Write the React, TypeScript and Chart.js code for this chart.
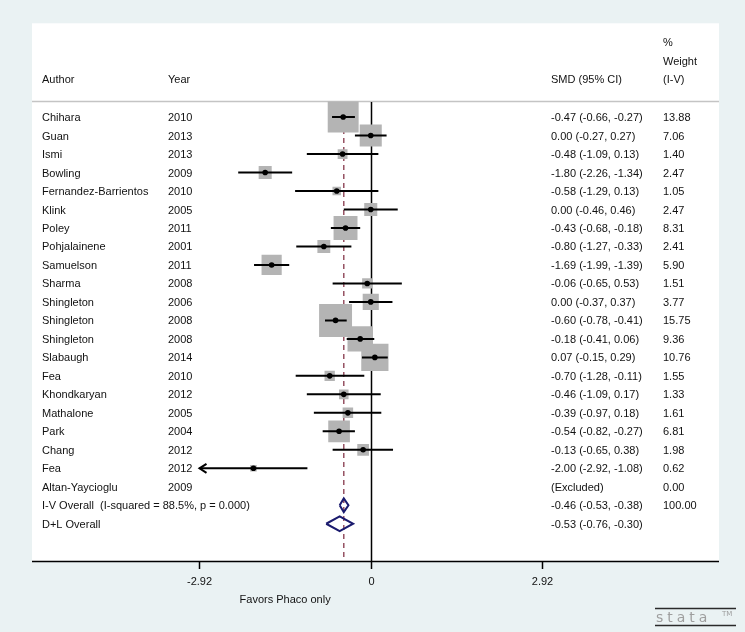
import { useEffect, useRef } from "react";
import { Chart, registerables } from "chart.js";

Chart.register(...registerables);

// ---------- data ----------
const authors = [
  "Chihara", "Guan", "Ismi", "Bowling", "Fernandez-Barrientos", "Klink", "Poley",
  "Pohjalainene", "Samuelson", "Sharma", "Shingleton", "Shingleton", "Shingleton",
  "Slabaugh", "Fea", "Khondkaryan", "Mathalone", "Park", "Chang", "Fea", "Altan-Yaycioglu",
];
const years = [
  "2010", "2013", "2013", "2009", "2010", "2005", "2011", "2001", "2011", "2008", "2006",
  "2008", "2008", "2014", "2010", "2012", "2005", "2004", "2012", "2012", "2009",
];
const smd: (number | null)[] = [
  -0.47, 0.0, -0.48, -1.8, -0.58, 0.0, -0.43, -0.8, -1.69, -0.06, 0.0, -0.6, -0.18, 0.07,
  -0.7, -0.46, -0.39, -0.54, -0.13, -2.0, null,
];
const lower: (number | null)[] = [
  -0.66, -0.27, -1.09, -2.26, -1.29, -0.46, -0.68, -1.27, -1.99, -0.65, -0.37, -0.78, -0.41,
  -0.15, -1.28, -1.09, -0.97, -0.82, -0.65, -2.92, null,
];
const upper: (number | null)[] = [
  -0.27, 0.27, 0.13, -1.34, 0.13, 0.46, -0.18, -0.33, -1.39, 0.53, 0.37, -0.41, 0.06, 0.29,
  -0.11, 0.17, 0.18, -0.27, 0.38, -1.08, null,
];
const weights = [
  13.88, 7.06, 1.4, 2.47, 1.05, 2.47, 8.31, 2.41, 5.9, 1.51, 3.77, 15.75, 9.36, 10.76, 1.55,
  1.33, 1.61, 6.81, 1.98, 0.62, 0.0,
];

const overallLabels = ["I-V Overall  (I-squared = 88.5%, p = 0.000)", "D+L Overall"];
const overallSmd = [-0.46, -0.53];
const overallLower = [-0.53, -0.76];
const overallUpper = [-0.38, -0.3];
const overallWeights = ["100.00", ""];

const xTicks = [-2.92, 0, 2.92];
const axisTitle = "Favors Phaco only";
const headerAuthor = "Author";
const headerYear = "Year";
const headerSmd = "SMD (95% CI)";
const headerWeight = ["%", "Weight", "(I-V)"];
const excludedText = "(Excluded)";

// ---------- styling ----------
const FONT = "11px 'Liberation Sans', Arial, Helvetica, sans-serif";
const BG = "#eaf2f3";
const BOX = "rgb(180,180,180)";
const NAVY = "#1b1b6e";
const MAROON = "rgb(150,82,98)";

const fmt = (v: number) => v.toFixed(2);

export default function App() {
  const ref = useRef<HTMLCanvasElement | null>(null);

  useEffect(() => {
    document.body.style.margin = "0";
    const canvas = ref.current;
    if (!canvas) return;

    const nStudies = authors.length;
    const overallRows = overallSmd.map((_, k) => nStudies + k);

    const boxData: { x: number; y: number }[] = [];
    const boxRadius: number[] = [];
    const pointData: { x: number; y: number }[] = [];
    const ciData: { x: number | null; y: number | null }[] = [];
    smd.forEach((v, i) => {
      if (v === null) return;
      if (weights[i] > 0) {
        boxData.push({ x: v, y: i });
        // square side proportional to sqrt(weight); rect pointStyle side = r*sqrt2
        boxRadius.push((8.3 * Math.sqrt(weights[i])) / Math.SQRT2);
      }
      pointData.push({ x: v, y: i });
      ciData.push({ x: lower[i] as number, y: i });
      ciData.push({ x: upper[i] as number, y: i });
      ciData.push({ x: null, y: null });
    });

    const diamondSets = overallSmd.map((es, k) => {
      const row = overallRows[k];
      const h = k === 0 ? 0.37 : 0.4;
      return {
        type: "scatter" as const,
        showLine: true,
        data: [
          { x: overallLower[k], y: row },
          { x: es, y: row - h },
          { x: overallUpper[k], y: row },
          { x: es, y: row + h },
          { x: overallLower[k], y: row },
        ],
        borderColor: NAVY,
        borderWidth: 2,
        pointRadius: 0,
        fill: false,
        order: 1,
        borderJoinStyle: "miter" as const,
      };
    });

    const pooled = overallSmd[0];

    const forestPlugin = {
      id: "forest",
      beforeDraw(chart: any) {
        const { ctx, chartArea: ca } = chart;
        ctx.save();
        ctx.fillStyle = BG;
        ctx.fillRect(0, 0, chart.width, chart.height);
        ctx.fillStyle = "#ffffff";
        ctx.fillRect(ca.left, ca.top, ca.right - ca.left, ca.bottom - ca.top);
        ctx.strokeStyle = "#c4c4c4";
        ctx.lineWidth = 1.5;
        ctx.beginPath();
        ctx.moveTo(ca.left, 101.5);
        ctx.lineTo(ca.right, 101.5);
        ctx.stroke();
        ctx.restore();
      },
      beforeDatasetsDraw(chart: any) {
        const { ctx, chartArea: ca } = chart;
        const xs = chart.scales.x;
        ctx.save();
        const x0 = Math.round(xs.getPixelForValue(0)) + 0.5;
        ctx.strokeStyle = "#000";
        ctx.lineWidth = 1.5;
        ctx.beginPath();
        ctx.moveTo(x0, 102);
        ctx.lineTo(x0, ca.bottom);
        ctx.stroke();
        const xp = xs.getPixelForValue(pooled);
        ctx.strokeStyle = MAROON;
        ctx.lineWidth = 1.5;
        ctx.setLineDash([5, 4]);
        ctx.beginPath();
        ctx.moveTo(xp, 102);
        ctx.lineTo(xp, ca.bottom);
        ctx.stroke();
        ctx.restore();
      },
      afterDatasetsDraw(chart: any) {
        const { ctx, chartArea: ca } = chart;
        const xs = chart.scales.x;
        const ys = chart.scales.y;
        ctx.save();

        ctx.strokeStyle = "#000";
        ctx.lineWidth = 2;
        smd.forEach((v, i) => {
          const lo = lower[i];
          if (v === null || lo === null) return;
          if (lo <= xTicks[0]) {
            const tx = xs.getPixelForValue(lo);
            const ty = ys.getPixelForValue(i);
            ctx.beginPath();
            ctx.moveTo(tx + 7, ty - 4.5);
            ctx.lineTo(tx, ty);
            ctx.lineTo(tx + 7, ty + 4.5);
            ctx.stroke();
          }
        });

        ctx.fillStyle = "#111";
        ctx.font = FONT;
        ctx.textBaseline = "middle";
        ctx.textAlign = "left";
        const xA = 42, xY = 168, xS = 551, xW = 663;
        ctx.fillText(headerAuthor, xA, 80);
        ctx.fillText(headerYear, xY, 80);
        ctx.fillText(headerSmd, xS, 80);
        ctx.fillText(headerWeight[0], xW, 43);
        ctx.fillText(headerWeight[1], xW, 62);
        ctx.fillText(headerWeight[2], xW, 80);

        authors.forEach((a, i) => {
          const y = ys.getPixelForValue(i) + 1;
          ctx.fillText(a, xA, y);
          ctx.fillText(years[i], xY, y);
          const v = smd[i];
          const lo = lower[i];
          const hi = upper[i];
          const t = v === null || lo === null || hi === null ? excludedText : `${fmt(v)} (${fmt(lo)}, ${fmt(hi)})`;
          ctx.fillText(t, xS, y);
          ctx.fillText(fmt(weights[i]), xW, y);
        });
        overallLabels.forEach((l, k) => {
          const y = ys.getPixelForValue(overallRows[k]) + 1;
          ctx.fillText(l, xA, y);
          ctx.fillText(`${fmt(overallSmd[k])} (${fmt(overallLower[k])}, ${fmt(overallUpper[k])})`, xS, y);
          ctx.fillText(overallWeights[k], xW, y);
        });

        ctx.strokeStyle = "#000";
        ctx.lineWidth = 1.5;
        ctx.beginPath();
        ctx.moveTo(ca.left, ca.bottom + 0.5);
        ctx.lineTo(ca.right, ca.bottom + 0.5);
        ctx.stroke();
        ctx.textAlign = "center";
        xTicks.forEach((t) => {
          const px = Math.round(xs.getPixelForValue(t)) + 0.5;
          ctx.beginPath();
          ctx.moveTo(px, ca.bottom);
          ctx.lineTo(px, ca.bottom + 8);
          ctx.stroke();
          ctx.fillText(t === 0 ? "0" : t.toFixed(2), px, ca.bottom + 21);
        });
        ctx.fillText(axisTitle, xs.getPixelForValue(xTicks[0] / 2), ca.bottom + 39);

        // stata logo
        ctx.strokeStyle = "#2a2a2a";
        ctx.lineWidth = 1.5;
        ctx.beginPath();
        ctx.moveTo(655, 608.5);
        ctx.lineTo(736, 608.5);
        ctx.moveTo(655, 625.5);
        ctx.lineTo(736, 625.5);
        ctx.stroke();
        ctx.fillStyle = "#9e9e9e";
        ctx.textAlign = "left";
        ctx.textBaseline = "alphabetic";
        ctx.font = "14px 'DejaVu Sans', sans-serif";
        (ctx as any).letterSpacing = "4px";
        ctx.fillText("stata", 656, 622);
        (ctx as any).letterSpacing = "0px";
        ctx.font = "7px 'DejaVu Sans', sans-serif";
        ctx.fillText("TM", 722, 616);
        ctx.restore();
      },
    };

    const chart = new Chart(canvas, {
      type: "scatter",
      data: {
        datasets: [
          {
            data: boxData,
            pointStyle: "rect",
            pointRadius: boxRadius,
            pointBackgroundColor: BOX,
            pointBorderWidth: 0,
            pointBorderColor: BOX,
            order: 4,
          } as any,
          {
            data: ciData,
            showLine: true,
            spanGaps: false,
            borderColor: "#000",
            borderWidth: 2,
            pointRadius: 0,
            order: 3,
          } as any,
          {
            data: pointData,
            pointStyle: "circle",
            pointRadius: 2.8,
            pointBackgroundColor: "#000",
            pointBorderWidth: 0,
            order: 2,
          } as any,
          ...diamondSets,
        ],
      },
      options: {
        responsive: false,
        animation: false,
        devicePixelRatio: 1,
        layout: { padding: { left: 32, right: 26, top: 22, bottom: 71 } },
        plugins: { legend: { display: false }, tooltip: { enabled: false } },
        events: [],
        scales: {
          x: { type: "linear", display: false, min: -5.776, max: 5.938 },
          y: { type: "linear", display: false, min: -5.073, max: 24.015, reverse: true },
        },
      },
      plugins: [forestPlugin],
    });

    return () => chart.destroy();
  }, []);

  return (
    <div style={{ width: 745, height: 632 }}>
      <canvas ref={ref} width={745} height={632} style={{ display: "block", width: 745, height: 632 }} />
    </div>
  );
}
